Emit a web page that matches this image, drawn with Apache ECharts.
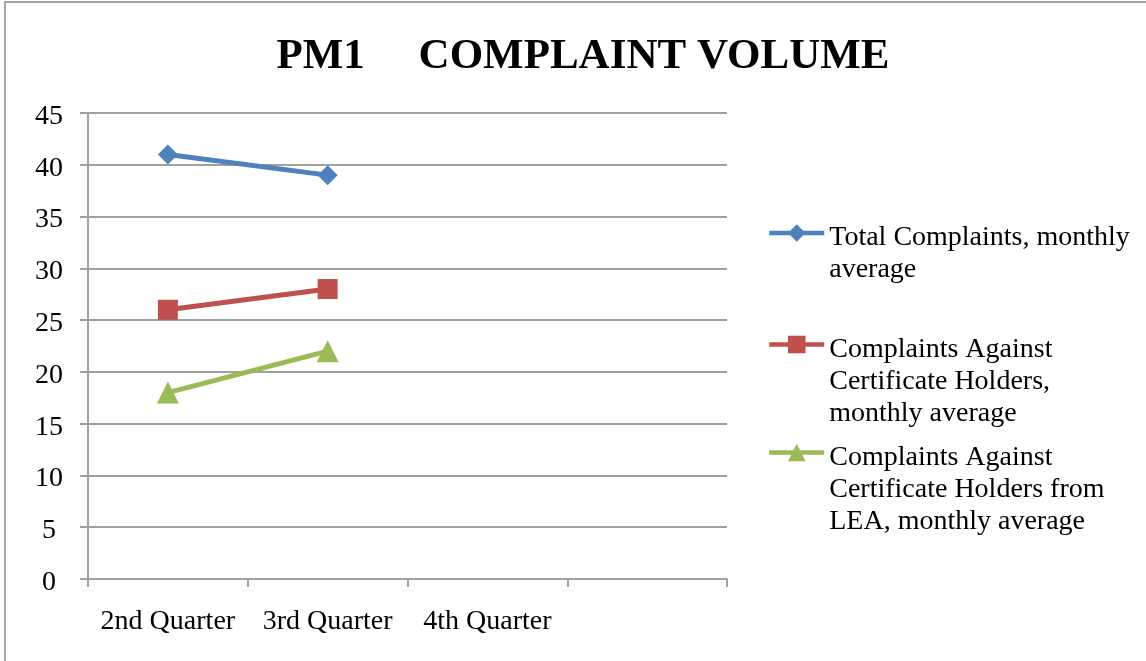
<!DOCTYPE html>
<html>
<head>
<meta charset="utf-8">
<script src="https://cdn.jsdelivr.net/npm/echarts@6/dist/echarts.min.js"></script>
<style>
html,body{margin:0;padding:0;background:#fff;}
#wrap{position:relative;width:1146px;height:661px;}
#chart{position:absolute;left:0;top:0;width:1146px;height:661px;}
#frame{position:absolute;left:4px;top:1px;width:1150px;height:670px;border-left:2px solid #a6a6a6;border-top:2px solid #a6a6a6;pointer-events:none;}
</style>
</head>
<body>
<div id="wrap"><div id="chart"></div><div id="frame"></div></div>
<script>
const categories = ['2nd Quarter', '3rd Quarter', '4th Quarter', ''];
const seriesNames = [
  'Total Complaints, monthly average',
  'Complaints Against Certificate Holders, monthly average',
  'Complaints Against Certificate Holders from LEA, monthly average'
];
const legendLines = [
  ['Total Complaints, monthly', 'average'],
  ['Complaints Against', 'Certificate Holders,', 'monthly average'],
  ['Complaints Against', 'Certificate Holders from', 'LEA, monthly average']
];
const totalComplaints = [41, 39, null, null];
const againstHolders = [26, 28, null, null];
const againstHoldersLEA = [18, 22, null, null];
const yTicks = [0, 5, 10, 15, 20, 25, 30, 35, 40, 45];

const colors = ['#4F81BD', '#C0504D', '#9BBB59'];
const symbols = ['diamond', 'rect', 'triangle'];
const symbolSizes = [20, 20, 22];
const values = [totalComplaints, againstHolders, againstHoldersLEA];
const FONT = 'Liberation Serif';
const FS = 28;
const LINE_H = 32;
const iconCenters = [234, 343, 451];
const TEXT_DROP = 5; // text first line sits a little below the icon
const LEGEND_SHIFT = 6;

const chart = echarts.init(document.getElementById('chart'), null, {renderer: 'canvas'});

const legends = seriesNames.map((name, i) => {
  const L = legendLines[i].length;
  const n = L - 1; // number of spacer lines
  const X = n > 0 ? (2 * TEXT_DROP + (L - 1) * LINE_H) / n : 0;
  const parts = [];
  for (let k = 0; k < n; k++) parts.push('{b| }');
  legendLines[i].forEach(s => parts.push('{t|' + s + '}'));
  const text = parts.join('\n');
  const totalH = n * X + L * LINE_H;
  return {
    orient: 'vertical',
    left: 767,
    top: iconCenters[i] - totalH / 2 + LEGEND_SHIFT,
    padding: 0,
    itemWidth: 55,
    itemHeight: 22,
    itemGap: 0,
    data: [name],
    selectedMode: false,
    formatter: () => text,
    lineStyle: {width: 4.5},
    textStyle: {
      fontFamily: FONT,
      fontSize: FS,
      color: '#000',
      rich: {
        b: {fontFamily: FONT, fontSize: FS, lineHeight: X},
        t: {fontFamily: FONT, fontSize: FS, color: '#000', lineHeight: LINE_H}
      }
    }
  };
});

const option = {
  animation: false,
  backgroundColor: '#fff',
  title: {
    text: 'PM1     COMPLAINT VOLUME',
    left: 578,
    textAlign: 'center',
    top: 30,
    textStyle: {fontFamily: FONT, fontWeight: 'bold', fontSize: 43, color: '#000'}
  },
  legend: legends,
  grid: {left: 88, right: 419, top: 113, bottom: 82, containLabel: false},
  xAxis: {
    type: 'category',
    data: categories,
    boundaryGap: true,
    axisLine: {lineStyle: {color: '#a0a0a0', width: 2}},
    axisTick: {show: true, length: 8, lineStyle: {color: '#a0a0a0', width: 2}},
    axisLabel: {fontFamily: FONT, fontSize: FS, color: '#000', margin: 29, interval: 0}
  },
  yAxis: {
    type: 'value',
    min: 0, max: 45, interval: 5,
    axisLine: {show: true, lineStyle: {color: '#a0a0a0', width: 2}},
    axisTick: {show: true, length: 8, lineStyle: {color: '#a0a0a0', width: 2}},
    splitLine: {lineStyle: {color: '#a0a0a0', width: 2}},
    axisLabel: {
      fontFamily: FONT, fontSize: FS, color: '#000', margin: 39, align: 'center',
      verticalAlign: 'top', lineHeight: 7,
      formatter: v => yTicks.includes(v) ? String(v) : ''
    }
  },
  series: seriesNames.map((name, i) => ({
    name: name,
    type: 'line',
    data: values[i],
    symbol: symbols[i],
    symbolSize: symbolSizes[i],
    showSymbol: true,
    connectNulls: false,
    itemStyle: {color: colors[i]},
    lineStyle: {color: colors[i], width: 5}
  }))
};
chart.setOption(option);
</script>
</body>
</html>
